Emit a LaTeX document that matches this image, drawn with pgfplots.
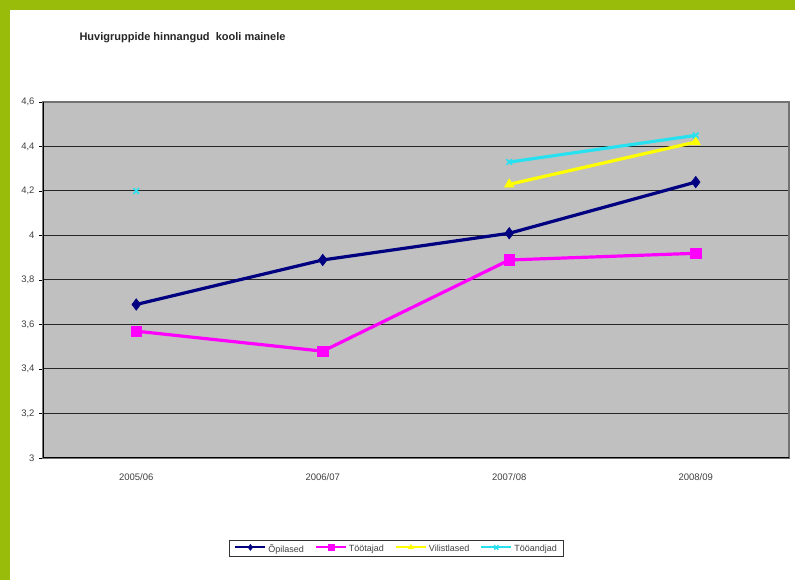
\documentclass[border=0pt]{standalone}
\usepackage{fontspec}
\setmainfont{Liberation Sans}
\usepackage{pgfplots}
\pgfplotsset{compat=1.18}
\definecolor{frame}{RGB}{153,187,10}
\definecolor{plotbg}{RGB}{192,192,192}
\definecolor{opil}{RGB}{0,0,128}
\definecolor{tootaj}{RGB}{255,0,255}
\definecolor{vilist}{RGB}{255,255,0}
\definecolor{tooand}{RGB}{40,225,240}

\begin{document}
\begin{tikzpicture}[x=1pt,y=1pt]
  \fill[frame] (0,0) rectangle (795,580);
  \fill[white] (10,0) rectangle (795,570);
  \node[anchor=west,font=\bfseries\fontsize{11}{13}\selectfont,text=black!85] at (76,542)
    {Huvigruppide hinnangud\ \ kooli mainele};
  \begin{axis}[
      at={(43pt,122pt)}, anchor=south west,
      scale only axis, width=746pt, height=356pt,
      xmin=-0.5, xmax=3.5, ymin=3, ymax=4.6,
      axis background/.style={fill=plotbg},
      axis line style={draw=black!55, line width=1.3pt},
      xtick pos=bottom, ytick pos=left,
      xtick={0,1,2,3},
      xticklabels={2005/06,2006/07,2007/08,2008/09},
      major x tick style={draw=none},
      extra x ticks={-0.5,0.5,1.5,2.5,3.5},
      extra x tick labels={},
      extra x tick style={major tick style={draw=black, line width=0.9pt}},
      ytick={3,3.2,3.4,3.6,3.8,4,4.2,4.4,4.6},
      yticklabels={3,{3,2},{3,4},{3,6},{3,8},4,{4,2},{4,4},{4,6}},
      ymajorgrids,
      grid style={black!85, line width=1pt},
      tick align=outside, major tick length=4pt,
      y tick style={black, line width=0.9pt},
      tick label style={font=\fontsize{9.5}{11}\selectfont, text=black!75},
      yticklabel style={xshift=-1pt},
      xticklabel style={yshift=-8pt},
      unbounded coords=jump,
      legend columns=4,
      legend style={at={(0.474,-0.254)}, anchor=center, draw=black!80,
        line width=0.9pt, font=\fontsize{9}{10}\selectfont, text=black!75,
        /tikz/every even column/.append style={column sep=9pt},
        nodes={text depth=0pt, yshift=-1pt},
        inner xsep=5pt, inner ysep=2pt},
      legend image code/.code={
        \draw[mark repeat=2,mark phase=2,line width=2pt,mark size=3pt]
          plot coordinates {(0pt,0pt) (15pt,0pt) (30pt,0pt)};},
    ]
    \addplot[opil, line width=3.2pt, mark=diamond*, mark size=5.8pt, mark options={solid,line width=0.5pt}]
      coordinates {(0,3.69) (1,3.89) (2,4.01) (3,4.24)};
    \addlegendentry{Õpilased}
    \addplot[tootaj, line width=3.2pt, mark=square*, mark size=5.3pt, mark options={solid,line width=0.5pt}]
      coordinates {(0,3.57) (1,3.48) (2,3.89) (3,3.92)};
    \addlegendentry{Töötajad}
    \addplot[vilist, line width=3.2pt, mark=triangle*, mark size=5.5pt, mark options={solid,line width=0.5pt}]
      coordinates {(2,4.23) (3,4.42)};
    \addlegendentry{Vilistlased}
    \addplot[tooand, line width=3.2pt, mark=x, mark size=4pt, mark options={solid,line width=1.6pt}]
      coordinates {(0,4.20) (1,nan) (2,4.33) (3,4.45)};
    \addlegendentry{Tööandjad}
    \draw[black, line width=1.4pt] (rel axis cs:0,1) -- (rel axis cs:0,0) -- (rel axis cs:1,0);
  \end{axis}
\end{tikzpicture}
\end{document}
